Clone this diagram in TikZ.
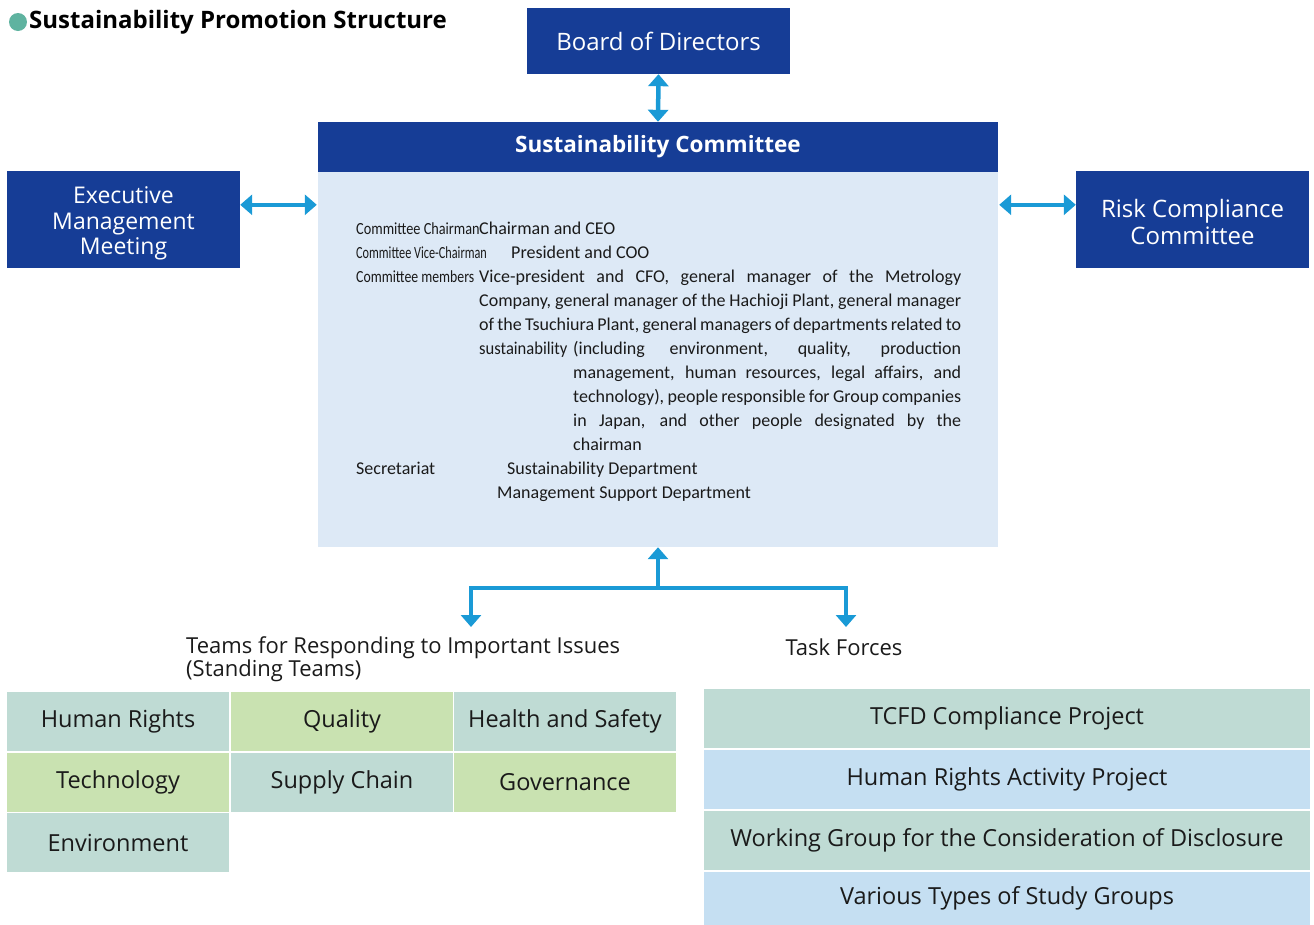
\documentclass[tikz,border=0pt]{standalone}
\usepackage{fontspec}
\setmainfont{Open Sans}
\newfontfamily\calfont{Carlito}
\usetikzlibrary{arrows.meta}
\definecolor{dblue}{HTML}{163D96}
\definecolor{lbody}{HTML}{DDE9F6}
\definecolor{arrc}{HTML}{1A9AD6}
\definecolor{teal}{HTML}{BFDBD4}
\definecolor{lgreen}{HTML}{C9E2B1}
\definecolor{lblue}{HTML}{C5DFF2}
\definecolor{dot}{HTML}{5FB3A0}
\definecolor{txt}{HTML}{1A1A1A}
\tikzset{
  darkbox/.style={fill=dblue, text=white, inner sep=0pt, align=center, font=\fontsize{24}{27}\selectfont},
  whitetext/.style={text=white, inner sep=0pt, align=center, font=\fontsize{24}{27}\selectfont},
  cell/.style={inner sep=0pt, text=txt, font=\fontsize{23.5}{26}\selectfont},
  conn/.style={draw=arrc, line width=4.5pt, {Triangle[width=20pt,length=12pt]}-{Triangle[width=20pt,length=12pt]}},
  conn1/.style={draw=arrc, line width=4.5pt, -{Triangle[width=20pt,length=12pt]}},
  lbl/.style={inner sep=0pt, anchor=base west, text=txt, font=\calfont\fontsize{18}{20}\selectfont},
  small/.style={inner sep=0pt, anchor=base west, text=txt, font=\calfont\fontsize{17}{20}\selectfont},
  plain/.style={inner sep=0pt, text=txt, font=\fontsize{22}{23}\selectfont}
}
\begin{document}
\begin{tikzpicture}[x=1pt,y=-1pt]
\useasboundingbox (0,0) rectangle (1314,924);
% title
\fill[dot] (18,22) circle (9);
\node[inner sep=0pt, anchor=west, font=\bfseries\fontsize{24}{26}\selectfont] (title) at (29,22) {Sustainability Promotion Structure};
% boxes
\node[darkbox, minimum width=263pt, minimum height=66pt] (board) at (658.5,41) {Board of Directors};
\node[darkbox, minimum width=233pt, minimum height=97pt] (exec) at (123.5,219.5) {};
\node[whitetext, font=\fontsize{23}{25.5}\selectfont] (exectxt) at ([yshift=-4pt]exec.center) {Executive\\Management\\Meeting};
\node[darkbox, minimum width=233pt, minimum height=97pt] (risk) at (1192.5,219.5) {};
\node[whitetext] (risktxt) at ([yshift=-2pt]risk.center) {Risk Compliance\\Committee};
\node[fill=lbody, minimum width=680pt, minimum height=375pt, inner sep=0pt] (body) at (658,359.5) {};
\node[darkbox, minimum width=680pt, minimum height=50pt, font=\bfseries\fontsize{22.5}{25}\selectfont] (head) at (658,147) {Sustainability Committee};
% arrows
\draw[conn] (board.south) -- (head.north);
\coordinate (el) at ([yshift=-34pt]exec.north east);
\draw[conn] (el) -- ([xshift=-1pt]el -| body.west);
\coordinate (rl) at ([yshift=-34pt]risk.north west);
\draw[conn] ([xshift=1pt]rl -| body.east) -- (rl);
% committee text
\node[small] (l1a) at (356,234) {\scalebox{0.84}[1]{Committee Chairman}};
\node[lbl] (l1b) at (479,234) {Chairman and CEO};
\node[small] (l2a) at (356,258) {\scalebox{0.72}[1]{Committee Vice-Chairman}};
\node[lbl] (l2b) at (511,258) {President and COO};
\node[small] (l3a) at (356,282) {\scalebox{0.81}[1]{Committee members}};
\node[lbl] (l3b) at (479,282) {\makebox[482pt][s]{Vice-president and CFO, general manager of the Metrology}};
\node[lbl] (l4) at (479,306) {\makebox[482pt][s]{Company, general manager of the Hachioji Plant, general manager}};
\node[lbl] (l5) at (479,330) {\makebox[482pt][s]{of the Tsuchiura Plant, general managers of departments related to}};
\node[lbl] (l6a) at (479,354) {\scalebox{0.92}[1]{sustainability}};
\node[lbl] (l6b) at (573,354) {\makebox[388pt][s]{(including environment, quality, production}};
\node[lbl] (l7) at (573,378) {\makebox[388pt][s]{management, human resources, legal affairs, and}};
\node[lbl] (l8) at (573,402) {\makebox[388pt][s]{technology), people responsible for Group companies}};
\node[lbl] (l9) at (573,426) {\makebox[388pt][s]{in Japan, and other people designated by the}};
\node[lbl] (l10) at (573,450) {chairman};
\node[lbl] (l11a) at (356,474) {Secretariat};
\node[lbl] (l11b) at (507,474) {Sustainability Department};
\node[lbl] (l12) at (497,498) {Management Support Department};
% bottom connectors
\coordinate (jc) at (658,588);
\coordinate (tl) at (471,627);
\coordinate (tr) at (846,627);
\draw[conn1] (jc) -- (body.south);
\draw[conn] (tl) |- (jc) -| (tr);
% labels
\node[plain, anchor=north west, align=left] (teams) at (186,636) {Teams for Responding to Important Issues\\(Standing Teams)};
\node[plain, anchor=north] (tf) at (844,639) {Task Forces};
% team cells
\node[cell, fill=teal, minimum width=222pt, minimum height=59pt] (c11) at (118,721.5) {Human Rights};
\node[cell, fill=lgreen, minimum width=222pt, minimum height=59pt] (c12) at (342,721.5) {Quality};
\node[cell, fill=teal, minimum width=222pt, minimum height=59pt] (c13) at (565,721.5) {Health and Safety};
\node[cell, fill=lgreen, minimum width=222pt, minimum height=59pt] (c21) at (118,782) {Technology};
\node[cell, fill=teal, minimum width=222pt, minimum height=59pt] (c22) at (342,782) {Supply Chain};
\node[cell, fill=lgreen, minimum width=222pt, minimum height=59pt] (c23) at (565,782) {Governance};
\node[cell, fill=teal, minimum width=222pt, minimum height=59pt] (c31) at (118,842.5) {Environment};
% task force cells
\node[cell, fill=teal, minimum width=606pt, minimum height=59pt] (t1) at (1007,718.5) {TCFD Compliance Project};
\node[cell, fill=lblue, minimum width=606pt, minimum height=59pt] (t2) at (1007,779) {Human Rights Activity Project};
\node[cell, fill=teal, minimum width=606pt, minimum height=59pt] (t3) at (1007,840) {Working Group for the Consideration of Disclosure};
\node[cell, fill=lblue, minimum width=606pt, minimum height=53pt] (t4) at (1007,898.5) {Various Types of Study Groups};
\end{tikzpicture}
\end{document}
